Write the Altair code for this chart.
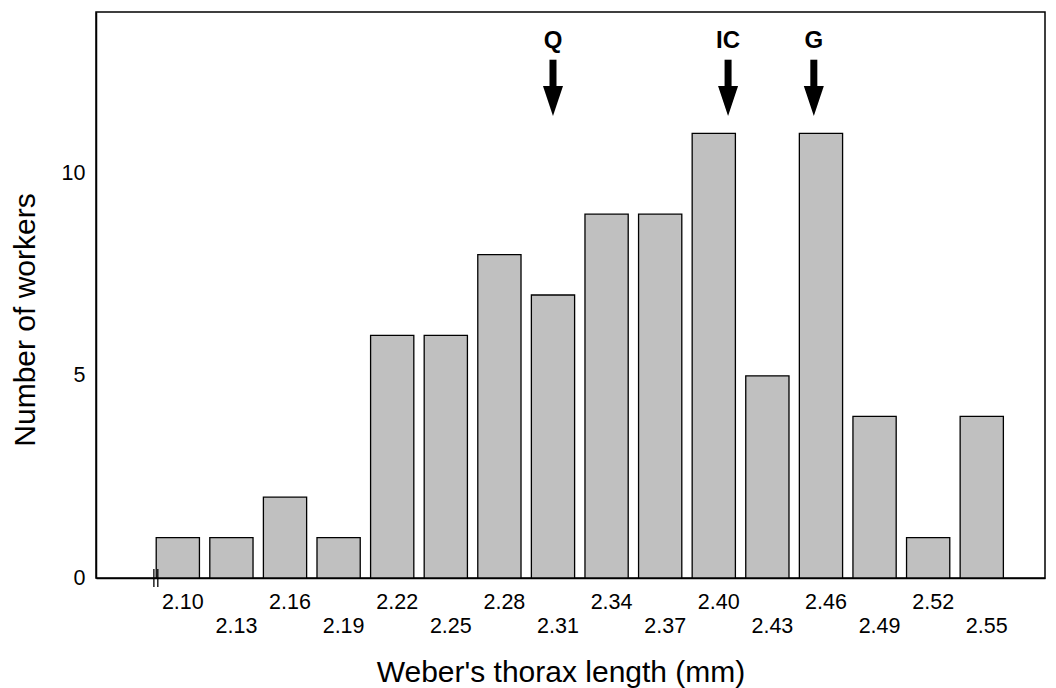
import altair as alt
import pandas as pd

# ---- data ----
lengths = [2.10, 2.13, 2.16, 2.19, 2.22, 2.25, 2.28, 2.31, 2.34, 2.37,
           2.40, 2.43, 2.46, 2.49, 2.52, 2.55]
workers = [1, 1, 2, 1, 6, 6, 8, 7, 9, 9, 11, 5, 11, 4, 1, 4]
row1_labels = ["2.10", "2.16", "2.22", "2.28", "2.34", "2.40", "2.46", "2.52"]
row2_labels = ["2.13", "2.19", "2.25", "2.31", "2.37", "2.43", "2.49", "2.55"]
arrow_names = ["Q", "IC", "G"]
arrow_pos = [2.310, 2.408, 2.456]
break_marks = [2.0866, 2.0888]

HALF = 0.0121
W, H = 949, 566
FONT = "Liberation Sans"

bars = pd.DataFrame({
    "x": [v - HALF for v in lengths],
    "x2": [v + HALF for v in lengths],
    "n": workers,
})
lab1 = pd.DataFrame({"x": [float(s) for s in row1_labels], "t": row1_labels})
lab2 = pd.DataFrame({"x": [float(s) for s in row2_labels], "t": row2_labels})
arrows = pd.DataFrame({"x": arrow_pos, "t": arrow_names,
                       "top": [12.82] * 3, "bot": [12.0] * 3,
                       "head": [11.8] * 3, "lab": [13.12] * 3})
brk = pd.DataFrame({"x": break_marks})

xs = alt.Scale(domain=[2.0542, 2.5854], nice=False, zero=False)
ys = alt.Scale(domain=[0, 14], nice=False)

xenc = alt.X("x:Q", scale=xs,
             axis=alt.Axis(labels=False, ticks=False, grid=False, title=None,
                           domainColor="black", domainWidth=1.5))
yenc = alt.Y("n:Q", scale=ys,
             axis=alt.Axis(values=[0, 5, 10], ticks=False, grid=False, title=None,
                           labelFont=FONT, labelFontSize=21.5, labelColor="black",
                           labelPadding=11, domainColor="black", domainWidth=1.5))

bar_layer = alt.Chart(bars).mark_rect(
    fill="#c0c0c0", stroke="black", strokeWidth=1.3
).encode(x=xenc, x2="x2:Q", y=yenc, y2=alt.datum(0))

t1 = alt.Chart(lab1).mark_text(
    font=FONT, fontSize=21.5, color="black", baseline="alphabetic", dx=5
).encode(x=alt.X("x:Q", scale=xs), y=alt.value(597), text="t:N")

t2 = alt.Chart(lab2).mark_text(
    font=FONT, fontSize=21.5, color="black", baseline="alphabetic", dx=5
).encode(x=alt.X("x:Q", scale=xs), y=alt.value(621), text="t:N")

shaft = alt.Chart(arrows).mark_rule(color="black", strokeWidth=7).encode(
    x=alt.X("x:Q", scale=xs), y=alt.Y("top:Q", scale=ys), y2="bot:Q")

head = alt.Chart(arrows).mark_point(
    shape="M-0.667,-1L0.667,-1L0,1Z", size=900, filled=True,
    color="black", opacity=1, strokeWidth=0
).encode(x=alt.X("x:Q", scale=xs), y=alt.Y("head:Q", scale=ys))

alabel = alt.Chart(arrows).mark_text(
    font=FONT, fontSize=24, fontWeight="bold", color="black", baseline="alphabetic"
).encode(x=alt.X("x:Q", scale=xs), y=alt.Y("lab:Q", scale=ys), text="t:N")

breaks = alt.Chart(brk).mark_rule(color="black", strokeWidth=1.3).encode(
    x=alt.X("x:Q", scale=xs), y=alt.value(557), y2=alt.value(575))

xtitle = alt.Chart(pd.DataFrame({"t": ["Weber's thorax length (mm)"]})).mark_text(
    font=FONT, fontSize=30, color="black", baseline="alphabetic", align="center"
).encode(x=alt.value(561 - 96), y=alt.value(682 - 12), text="t:N")

ytitle = alt.Chart(pd.DataFrame({"t": ["Number of workers"]})).mark_text(
    font=FONT, fontSize=30, color="black", baseline="alphabetic", align="center",
    angle=270
).encode(x=alt.value(35 - 96), y=alt.value(320 - 12), text="t:N")

chart = alt.layer(
    bar_layer, t1, t2, breaks, shaft, head, alabel, xtitle, ytitle
).properties(
    width=W, height=H,
    autosize=alt.AutoSizeParams(type="none"),
    padding={"left": 96, "top": 12, "right": 11, "bottom": 110},
    background="white",
).configure_view(
    stroke="black", strokeWidth=1.5
)

chart.save("out.html", embed_options={"renderer": "svg", "actions": False})
